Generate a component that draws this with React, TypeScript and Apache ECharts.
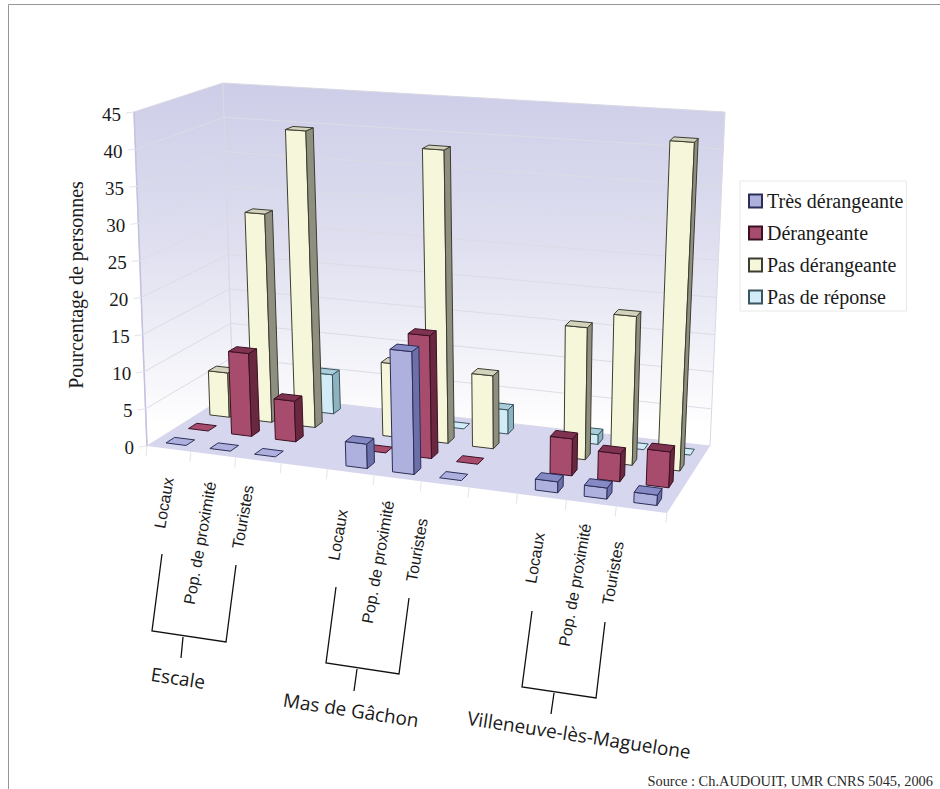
import React, { useEffect, useRef } from "react";
import * as echarts from "echarts";

const categories = ["Locaux", "Pop. de proximité", "Touristes", "", "Locaux", "Pop. de proximité", "Touristes", "", "Locaux", "Pop. de proximité", "Touristes"];
const yTicks = [0, 5, 10, 15, 20, 25, 30, 35, 40, 45];
const seriesNames = ["Très dérangeante", "Dérangeante", "Pas dérangeante", "Pas de réponse"];
const tresDerangeante = [0, 0, 0, null, 3.2, 16, 0, null, 1.4, 1.4, 1.3];
const derangeante = [0, 11.3, 5.5, null, 0, 16.3, 0, null, 4.8, 3.6, 4.6];
const pasDerangeante = [6.2, 29, 41, null, 10, 39.7, 9.8, null, 17.5, 19.6, 43];
const pasDeReponse = [0, 0, 5.5, null, 0, 0, 3.3, null, 1.3, 0, 0];
const groupNames = ["Escale", "Mas de Gâchon", "Villeneuve-lès-Maguelone"];
const axisTitle = "Pourcentage de personnes";
const sourceText = "Source : Ch.AUDOUIT, UMR CNRS 5045, 2006";

const seriesValues = [tresDerangeante, derangeante, pasDerangeante, pasDeReponse];
const palette = [
  { front: "#aeb1de", side: "#6c70a8", top: "#868ac4", line: "#2c2e58" },
  { front: "#a84c6e", side: "#6a2840", top: "#7f3350", line: "#3a1022" },
  { front: "#f6f6da", side: "#8e8f7e", top: "#d3d3bd", line: "#3c3d30" },
  { front: "#d2ecf7", side: "#8fb2bf", top: "#a9ced9", line: "#3a5560" },
];

type P = [number, number];
function squareToQuad(p00: P, p10: P, p11: P, p01: P) {
  const [x0, y0] = p00, [x1, y1] = p10, [x2, y2] = p11, [x3, y3] = p01;
  const dx1 = x1 - x2, dx2 = x3 - x2, sx = x0 - x1 + x2 - x3;
  const dy1 = y1 - y2, dy2 = y3 - y2, sy = y0 - y1 + y2 - y3;
  const den = dx1 * dy2 - dx2 * dy1;
  const g = (sx * dy2 - dx2 * sy) / den;
  const h = (dx1 * sy - sx * dy1) / den;
  const a = x1 - x0 + g * x1, b = x3 - x0 + h * x3, c = x0;
  const d = y1 - y0 + g * y1, e = y3 - y0 + h * y3, f = y0;
  return (u: number, v: number): P => {
    const w = g * u + h * v + 1;
    return [(a * u + b * v + c) / w, (d * u + e * v + f) / w];
  };
}
const floorPlane = squareToQuad([147, 446], [667, 513], [710, 446], [233, 392]);
const topPlane = squareToQuad([134, 112], [686, 153], [725, 112], [223, 83]);
const project = (u: number, depth: number, h: number): number[] => {
  const bow = Math.sin(Math.PI * u);
  const a = floorPlane(u + 0.012 * bow, depth), b = topPlane(u + 0.024 * bow, depth);
  return [a[0] + (b[0] - a[0]) * h, a[1] + (b[1] - a[1]) * h];
};

const BAR_W = 0.46;
const BAR_D = 0.38;

function barRender(rowIndex: number) {
  return (params: any, api: any) => {
    const i = api.value(0), v = api.value(1);
    if (v === null || v === undefined || isNaN(v)) return null;
    const sys = params.coordSys;
    const c = api.coord([i, v]);
    const slot = api.size([1, 0])[0] / sys.width;
    const uc = (c[0] - sys.x) / sys.width;
    const h = Math.max((sys.y + sys.height - c[1]) / sys.height, 0.0);
    const u0 = uc - (slot * BAR_W) / 2, u1 = uc + (slot * BAR_W) / 2;
    const dc = (rowIndex + 0.5) / 4;
    const d0 = dc - BAR_D / 8, d1 = dc + BAR_D / 8;
    const col = palette[rowIndex];
    const lineStyle = { stroke: col.line, lineWidth: 1, lineJoin: "round" };
    const poly = (pts: number[][], fill: string) => ({ type: "polygon", shape: { points: pts }, style: { fill, ...lineStyle } });
    const children: any[] = [];
    if (h > 0) {
      children.push(poly([project(u0, d0, 0), project(u1, d0, 0), project(u1, d0, h), project(u0, d0, h)], col.front));
      children.push(poly([project(u1, d0, 0), project(u1, d1, 0), project(u1, d1, h), project(u1, d0, h)], col.side));
    }
    children.push(poly([project(u0, d0, h), project(u1, d0, h), project(u1, d1, h), project(u0, d1, h)], h > 0 ? col.top : col.front));
    return { type: "group", children };
  };
}

function sceneRender(params: any, api: any) {
  const sys = params.coordSys;
  const wallGrad = () => new echarts.graphic.LinearGradient(0, 0, 0, 1, [
    { offset: 0, color: "#cdcde8" },
    { offset: 0.45, color: "#dfdff0" },
    { offset: 0.95, color: "#ffffff" },
    { offset: 1, color: "#ffffff" },
  ]);
  const edge = { stroke: "#d8d8e4", lineWidth: 1 };
  const children: any[] = [
    { type: "polygon", shape: { points: [project(0, 0, 0), project(0, 1, 0), project(0, 1, 1), project(0, 0, 1)] }, style: { fill: wallGrad(), ...edge } },
    { type: "polygon", shape: { points: [project(0, 1, 0), project(1, 1, 0), project(1, 1, 1), project(0, 1, 1)] }, style: { fill: wallGrad(), ...edge } },
    { type: "line", shape: { x1: project(0, 0, 0)[0], y1: project(0, 0, 0)[1], x2: project(0, 0, 1)[0], y2: project(0, 0, 1)[1] }, style: { stroke: "#c2c2e0", lineWidth: 1.5 } },
  ];
  yTicks.forEach((t) => {
    const y = api.coord([0, t])[1];
    const h = (sys.y + sys.height - y) / sys.height;
    const a = project(0, 0, h);
    children.push({ type: "line", shape: { x1: a[0] - 8, y1: a[1] + 1, x2: a[0], y2: a[1] }, style: { stroke: "#e4e4ea", lineWidth: 1 } });
    if (t === 0 || h >= 1) return;
    const line = { stroke: "#dcdce6", lineWidth: 1 };
    children.push({ type: "polyline", shape: { points: [a, project(0, 1, h), project(1, 1, h)] }, style: { ...line, fill: "none" } });
  });
  children.push({ type: "polygon", shape: { points: [project(0, 0, 0), project(1, 0, 0), project(1, 1, 0), project(0, 1, 0)] }, style: { fill: "#d6d6ee", stroke: "none" } });
  categories.concat("").forEach((_, i) => {
    const u = i / categories.length;
    const a = project(u, 0, 0);
    children.push({ type: "line", shape: { x1: a[0], y1: a[1], x2: a[0] - 1, y2: a[1] + 10 }, style: { stroke: "#e4e4ea", lineWidth: 1 } });
  });
  return { type: "group", children };
}

const serif = "'Liberation Serif', serif";
const sans = "'Liberation Sans', sans-serif";
const catCenters = [[164, 503], [200, 543], [243, 517], null, [338, 535], [378, 562], [417, 550], null, [535, 558], [575, 585], [613, 573]];
const brackets = [
  [[162, 554], [152, 631], [226, 642], [236, 565]],
  [[336, 587], [326, 663], [399, 674], [409, 598]],
  [[532, 611], [522, 687], [596, 698], [605, 622]],
];
const stems = [[183, 637, 181, 658], [357, 669, 354, 691], [554, 693, 551, 714]];
const groupCenters = [[178, 678], [351, 710], [579, 735]];

export default function App() {
  const ref = useRef<HTMLDivElement>(null);
  useEffect(() => {
    document.body.style.margin = "0";
    const chart = echarts.init(ref.current!, undefined, { renderer: "svg" });
    const rich: any = {};
    yTicks.forEach((t) => { rich["v" + t] = { padding: [0, (t / 45) * 13, 0, 0], fontFamily: serif, fontSize: 19, color: "#1a1a1a" }; });
    const graphics: any[] = [
      { type: "rect", silent: true, shape: { x: 8.5, y: 4.5, width: 960, height: 800 }, style: { fill: "none", stroke: "#969696", lineWidth: 1 }, z: -1 },
    ];
    categories.forEach((c, i) => {
      const pos = catCenters[i];
      if (!c || !pos) return;
      graphics.push({ type: "text", x: pos[0], y: pos[1], rotation: (80 * Math.PI) / 180, style: { text: c, font: `16px ${sans}`, fill: "#1a1a1a", align: "center", verticalAlign: "middle" } });
    });
    brackets.forEach((b) => graphics.push({ type: "polyline", shape: { points: b }, style: { fill: "none", stroke: "#111", lineWidth: 1.3 } }));
    stems.forEach((s) => graphics.push({ type: "line", shape: { x1: s[0], y1: s[1], x2: s[2], y2: s[3] }, style: { stroke: "#111", lineWidth: 1.3 } }));
    groupNames.forEach((g, i) => graphics.push({ type: "text", x: groupCenters[i][0], y: groupCenters[i][1], rotation: (-8.7 * Math.PI) / 180, style: { text: g, font: `19px 'Open Sans', sans-serif`, fill: "#1a1a1a", align: "center", verticalAlign: "middle" } }));
    graphics.push({ type: "text", right: 7, top: 774, style: { text: sourceText, font: `14.4px ${serif}`, fill: "#2a2a2a" } });

    chart.setOption({
      animation: false,
      backgroundColor: "#ffffff",
      grid: { left: 147, top: 114, width: 520, height: 333, containLabel: false },
      xAxis: { type: "category", data: categories, show: false },
      yAxis: {
        type: "value", min: 0, max: 45, interval: 5,
        name: axisTitle, nameLocation: "middle", nameGap: 61, nameRotate: 90,
        nameTextStyle: { fontFamily: serif, fontSize: 20, color: "#1a1a1a", padding: [0, 9, 0, 0] },
        axisLine: { show: false }, axisTick: { show: false }, splitLine: { show: false },
        axisLabel: { margin: 13, formatter: (v: number) => `{v${v}|${v}}`, rich },
      },
      legend: {
        orient: "vertical", left: 740, top: 181,
        padding: [10, 3, 4, 8], itemGap: 12, itemWidth: 13, itemHeight: 13,
        icon: "rect",
        borderColor: "#e8e8e8", borderWidth: 1,
        data: seriesNames,
        textStyle: { fontFamily: serif, fontSize: 20, color: "#1a1a1a" },
      },
      graphic: graphics,
      series: [
        { type: "custom", silent: true, renderItem: sceneRender, data: [[0, 0]], z: 1, encode: { x: 0, y: 1 } },
        ...[3, 2, 1, 0].map((row) => ({
          type: "custom",
          name: seriesNames[row],
          renderItem: barRender(row),
          z: 2 + (3 - row),
          itemStyle: { color: palette[row].front, borderColor: palette[row].line, borderWidth: 1 },
          encode: { x: 0, y: 1 },
          data: seriesValues[row].map((v, i) => [i, v]),
        })),
      ],
    });
    return () => chart.dispose();
  }, []);
  return <div ref={ref} style={{ position: "fixed", left: 0, top: 0, width: 940, height: 789 }} />;
}
